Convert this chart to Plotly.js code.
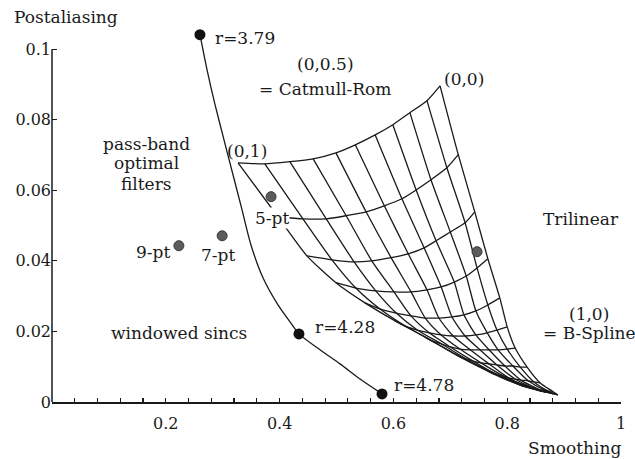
<!DOCTYPE html>
<html>
<head>
<meta charset="utf-8">
<script src="https://cdn.plot.ly/plotly-3.0.1.min.js"></script>
<style>html,body{margin:0;padding:0;background:#fff;}#chart{width:635px;height:459px;}</style>
</head>
<body>
<div id="chart"></div>
<script>
// ---- data ----
// BC-cubic mesh nodes: rows are B = 0 .. 1 (step 0.1), columns are C = 1 .. 0 (step 0.1)
const bValues = [0, 0.1, 0.2, 0.3, 0.4, 0.5, 0.6, 0.7, 0.8, 0.9, 1.0];
const cValues = [1, 0.9, 0.8, 0.7, 0.6, 0.5, 0.4, 0.3, 0.2, 0.1, 0];
const meshSmoothing = [
  [0.327,0.374,0.418,0.459,0.499,0.533,0.568,0.599,0.629,0.659,0.682],
  [0.397,0.441,0.482,0.517,0.552,0.584,0.615,0.640,0.666,0.694,0.714],
  [0.448,0.492,0.531,0.562,0.596,0.626,0.654,0.675,0.700,0.726,0.743],
  [0.499,0.534,0.569,0.601,0.631,0.659,0.684,0.707,0.728,0.747,0.766],
  [0.550,0.576,0.605,0.631,0.656,0.680,0.703,0.724,0.745,0.766,0.787],
  [0.603,0.620,0.642,0.663,0.684,0.705,0.726,0.745,0.765,0.782,0.800],
  [0.656,0.668,0.684,0.700,0.717,0.735,0.752,0.768,0.784,0.800,0.814],
  [0.708,0.717,0.728,0.740,0.754,0.768,0.782,0.796,0.810,0.823,0.835],
  [0.761,0.766,0.773,0.782,0.793,0.803,0.814,0.824,0.837,0.847,0.858],
  [0.814,0.817,0.823,0.828,0.835,0.842,0.849,0.858,0.865,0.872,0.879],
  [0.858,0.859,0.863,0.866,0.870,0.874,0.877,0.881,0.884,0.888,0.889]
];
const meshPostaliasing = [
  [0.0678,0.0675,0.0681,0.0689,0.0706,0.0729,0.0757,0.0786,0.0820,0.0854,0.0896],
  [0.0525,0.0519,0.0519,0.0528,0.0539,0.0556,0.0576,0.0601,0.0630,0.0664,0.0701],
  [0.0414,0.0403,0.0397,0.0400,0.0409,0.0420,0.0437,0.0457,0.0482,0.0508,0.0539],
  [0.0338,0.0323,0.0315,0.0312,0.0312,0.0318,0.0326,0.0340,0.0357,0.0380,0.0406],
  [0.0281,0.0264,0.0252,0.0244,0.0238,0.0238,0.0241,0.0247,0.0258,0.0275,0.0295],
  [0.0230,0.0216,0.0204,0.0196,0.0190,0.0187,0.0187,0.0190,0.0196,0.0204,0.0213],
  [0.0184,0.0173,0.0165,0.0156,0.0150,0.0148,0.0148,0.0148,0.0148,0.0150,0.0153],
  [0.0136,0.0128,0.0122,0.0116,0.0111,0.0108,0.0105,0.0102,0.0102,0.0099,0.0099],
  [0.0094,0.0088,0.0082,0.0077,0.0074,0.0068,0.0065,0.0062,0.0060,0.0057,0.0054],
  [0.0057,0.0054,0.0048,0.0045,0.0043,0.0040,0.0037,0.0034,0.0034,0.0031,0.0031],
  [0.0034,0.0031,0.0031,0.0028,0.0028,0.0026,0.0026,0.0023,0.0023,0.0020,0.0020]
];

// windowed sinc family curve
const sincSmoothing = [0.2601,0.2724,0.2865,0.3023,0.3181,0.3339,0.3497,0.3708,0.3972,0.4183,0.4341,0.4710,0.5062,0.5413,0.5800];
const sincPostaliasing = [0.1041,0.0942,0.0843,0.0743,0.0644,0.0545,0.0445,0.0352,0.0275,0.0227,0.0193,0.0148,0.0108,0.0065,0.0023];
// marked windowed sincs
const sincLabels = ["r=3.79", "r=4.28", "r=4.78"];
const sincMarkX = [0.260, 0.434, 0.580];
const sincMarkY = [0.1041, 0.0193, 0.0023];

// other filters (gray dots)
const otherLabels = ["9-pt", "7-pt", "5-pt", "Trilinear"];
const otherX = [0.223, 0.299, 0.385, 0.747];
const otherY = [0.0443, 0.0471, 0.0582, 0.0426];

// axis ticks
const yTickVals = [0, 0.02, 0.04, 0.06, 0.08, 0.1];
const yTickText = ["0", "0.02", "0.04", "0.06", "0.08", "0.1"];
const xTickVals = [0.2, 0.4, 0.6, 0.8, 1];
const xTickText = ["0.2", "0.4", "0.6", "0.8", "1"];

// ---- build mesh polylines (rows of constant B and columns of constant C) ----
const mx = [], my = [];
for (let i = 0; i < bValues.length; i++) {
  for (let j = 0; j < cValues.length; j++) { mx.push(meshSmoothing[i][j]); my.push(meshPostaliasing[i][j]); }
  mx.push(null); my.push(null);
}
for (let j = 0; j < cValues.length; j++) {
  for (let i = 0; i < bValues.length; i++) { mx.push(meshSmoothing[i][j]); my.push(meshPostaliasing[i][j]); }
  mx.push(null); my.push(null);
}

const FONT = "DejaVu Serif, Liberation Serif, serif";
const INK = "#1a1a1a";

const traces = [
  { type: "scatter", mode: "lines", x: mx, y: my, connectgaps: false,
    line: { color: INK, width: 1.3, shape: "spline", smoothing: 0.6 }, hoverinfo: "skip" },
  { type: "scatter", mode: "lines", x: sincSmoothing, y: sincPostaliasing,
    line: { color: INK, width: 1.3, shape: "spline", smoothing: 0.8 }, hoverinfo: "skip" },
  { type: "scatter", mode: "markers", x: sincMarkX, y: sincMarkY, text: sincLabels, cliponaxis: false,
    marker: { color: "#111", size: 11 } },
  { type: "scatter", mode: "markers", x: otherX, y: otherY, text: otherLabels, cliponaxis: false,
    marker: { color: "#5c5c5c", size: 10, line: { color: "#3a3a3a", width: 1 } } }
];

function ann(text, x, y, xanchor, extra) {
  return Object.assign({ text: text, x: x, y: y, xref: "x", yref: "y", showarrow: false,
    xanchor: xanchor || "center", yanchor: "middle",
    font: { family: FONT, size: 17, color: INK } }, extra || {});
}

const annotations = [
  // axis titles
  { text: "Postaliasing", xref: "paper", yref: "paper", x: -0.0703, y: 1.0294, xanchor: "left", yanchor: "middle",
    showarrow: false, font: { family: FONT, size: 17, color: INK } },
  { text: "Smoothing", xref: "paper", yref: "paper", x: 1.0035, y: -0.123, xanchor: "right", yanchor: "middle",
    showarrow: false, font: { family: FONT, size: 17, color: INK } },
  // sinc labels
  ann(sincLabels[0], 0.283, 0.1033, "left"),
  ann(sincLabels[1], 0.4587, 0.0213, "left"),
  ann(sincLabels[2], 0.5975, 0.0048, "left"),
  // mesh corner labels
  ann("(0,0.5)", 0.4798, 0.0959),
  ann("= Catmull-Rom", 0.4798, 0.0888),
  ann("(0,0)", 0.7241, 0.0916),
  ann("(0,1)", 0.3427, 0.0712),
  ann("(1,0)", 0.9438, 0.0250),
  ann("= B-Spline", 0.9438, 0.0196),
  // region labels
  ann("pass-band", 0.1652, 0.0732),
  ann("optimal", 0.1652, 0.0678),
  ann("filters", 0.1652, 0.0618),
  ann("windowed sincs", 0.2232, 0.0196),
  ann(otherLabels[0], 0.1775, 0.0426),
  ann(otherLabels[1], 0.2917, 0.0417),
  ann(otherLabels[2], 0.3866, 0.0522, "center", { bgcolor: "#ffffff", borderpad: 0 }),
  ann(otherLabels[3], 0.9297, 0.0519)
];

const layout = {
  width: 635, height: 459,
  margin: { l: 52, r: 14, t: 28, b: 57 },
  paper_bgcolor: "#fff", plot_bgcolor: "#fff",
  showlegend: false,
  font: { family: FONT, size: 16, color: INK },
  xaxis: {
    range: [0, 1], showgrid: false, zeroline: false,
    showline: true, linecolor: INK, linewidth: 1.5,
    tickmode: "array", tickvals: xTickVals, ticktext: xTickText,
    ticks: "inside", ticklen: 4, tickwidth: 1.2, tickcolor: INK,
    ticklabelstandoff: 6,
    minor: { dtick: 0.04, tick0: 0, ticks: "inside", ticklen: 4, tickwidth: 1.2, tickcolor: INK, showgrid: false },
    tickfont: { family: FONT, size: 16, color: INK }
  },
  yaxis: {
    range: [0, 0.106], showgrid: false, zeroline: false, showline: false,
    tickmode: "array", tickvals: yTickVals, ticktext: yTickText,
    ticks: "inside", ticklen: 5, tickwidth: 1.2, tickcolor: INK,
    tickfont: { family: FONT, size: 16, color: INK }
  },
  shapes: [
    { type: "line", xref: "paper", yref: "y", x0: 0, x1: 0, y0: 0, y1: 0.1,
      line: { color: INK, width: 1.5 }, layer: "above" }
  ],
  annotations: annotations
};

Plotly.newPlot("chart", traces, layout, { staticPlot: true, displayModeBar: false });
</script>
</body>
</html>
